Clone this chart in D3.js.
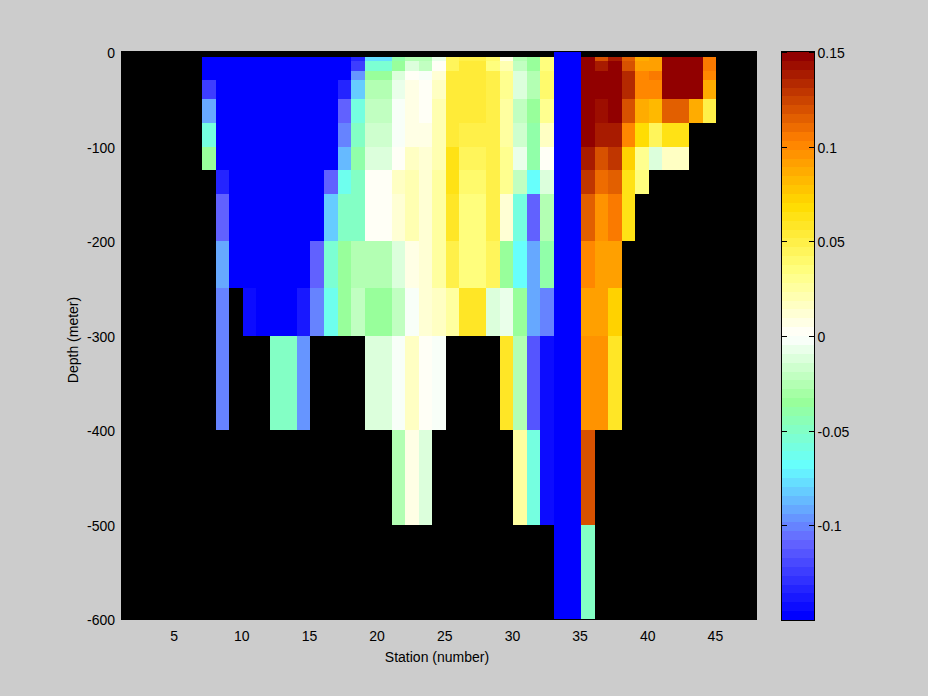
<!DOCTYPE html>
<html>
<head>
<meta charset="utf-8">
<script src="https://cdn.jsdelivr.net/npm/d3@7/dist/d3.min.js"></script>
<style>
html,body{margin:0;padding:0;background:#ccc;overflow:hidden}
svg{display:block}
text{font-family:"Liberation Sans",Arial,sans-serif;font-size:14px;fill:#000}
</style>
</head>
<body>
<script>
const N = null, B = -0.15;
const stationStart = 7;
const depthEdges = [0,5,10,20,30,50,75,100,125,150,200,250,300,400,500,600];
const xTicks = [5,10,15,20,25,30,35,40,45];
const yTicks = [0,-100,-200,-300,-400,-500,-600];
const barTicks = [-0.1,-0.05,0,0.05,0.1,0.15];

// Each row: one depth interval, stations 7 to 44
const d0to5 = [N,N,N,N,N,N,N,N,N,N,N,N,N,N,N,N,N,N,N,N,N,N,N,N,N,N,B,B,N,N,N,N,N,N,N,N,N,N];
const d5to10 = [B,B,B,B,B,B,B,B,B,B,B,-.134,-.078,-.078,-.041,-.026,-.026,-.005,.043,.051,.051,.04,.008,-.027,-.034,.037,B,B,.15,.12,.139,.115,.086,.091,.15,.15,.15,.105];
const d10to20 = [B,B,B,B,B,B,B,B,B,B,B,-.1225,-.054,-.054,-.033,-.01,-.019,0,.045,.054,.054,.037,.021,-.019,-.033,.037,B,B,.15,.139,.15,.12,.091,.093,.15,.15,.15,.105];
const d20to30 = [B,B,B,B,B,B,B,B,B,B,B,-.097,-.034,-.034,-.01,.003,-.002,.011,.054,.056,.056,.047,.029,-.01,-.027,.04,B,B,.15,.15,.15,.134,.099,.105,.15,.15,.15,.099];
const d30to50 = [-.1225,B,B,B,B,B,B,B,B,B,-.134,-.08,-.026,-.026,-.005,.007,.001,.017,.054,.056,.056,.048,.032,-.01,-.026,.04,B,B,.15,.15,.15,.134,.1,.1,.15,.15,.15,.089];
const d50to75 = [-.09,B,B,B,B,B,B,B,B,B,-.11,-.06,-.021,-.021,-.003,.007,.001,.023,.056,.056,.056,.049,.026,-.019,-.034,.032,B,B,.15,.145,.15,.12,.086,.081,.115,.115,.089,.048];
const d75to100 = [-.06,B,B,B,B,B,B,B,B,B,-.1,-.051,-.016,-.016,-.003,.006,.006,.023,.056,.051,.051,.049,.026,-.017,-.04,.018,B,B,.15,.139,.139,.1,.067,.043,.062,.062,N,N];
const d100to125 = [-.033,B,B,B,B,B,B,B,B,B,-.087,-.042,-.01,-.01,.003,.018,.01,.023,.062,.043,.043,.048,.029,-.005,-.041,.003,B,B,.139,.118,.127,.074,.032,-.01,.017,.017,N,N];
const d125to150 = [N,-.134,B,B,B,B,B,B,B,-.11,-.065,-.051,.003,.003,.016,.023,.011,.026,.062,.041,.041,.048,.029,-.023,-.07,-.01,B,B,.127,.108,.115,.062,.035,N,N,N,N,N];
const d150to200 = [N,-.11,B,B,B,B,B,B,B,-.08,-.051,-.051,.003,.003,.014,.023,.014,.028,.06,.037,.037,.047,.011,-.057,-.11,-.026,B,B,.115,.097,.105,.065,N,N,N,N,N,N];
const d200to250 = [N,-.09,B,B,B,B,B,B,-.11,-.054,-.034,-.028,-.024,-.024,-.01,.008,.014,.026,.047,.037,.037,.043,-.034,-.07,-.09,-.042,B,B,.1,.091,.091,N,N,N,N,N,N,N];
const d250to300 = [N,-.103,N,-.144,B,B,B,-.139,-.103,-.062,-.034,-.019,-.034,-.034,-.021,-.002,.011,.017,.026,.06,.06,-.01,-.006,-.034,-.09,-.1,B,B,.091,.091,.074,N,N,N,N,N,N,N];
const d300to400 = [N,-.103,N,N,N,-.051,-.051,-.097,N,N,N,N,-.01,-.01,-.002,.017,.003,-.002,N,N,N,N,.059,-.024,-.115,-.142,B,B,.097,.097,.06,N,N,N,N,N,N,N];
const d400to500 = [N,N,N,N,N,N,N,N,N,N,N,N,N,N,-.024,.006,-.01,N,N,N,N,N,N,.024,-.058,-.142,B,B,.12,N,N,N,N,N,N,N,N,N];
const d500to600 = [N,N,N,N,N,N,N,N,N,N,N,N,N,N,N,N,N,N,N,N,N,N,N,N,N,N,B,B,-.048,N,N,N,N,N,N,N,N,N];

const rows = [d0to5,d5to10,d10to20,d20to30,d30to50,d50to75,d75to100,d100to125,d125to150,d150to200,d200to250,d250to300,d300to400,d400to500,d500to600];

// colormap anchors
const cmapValues = [-.15,-.11,-.07,-.035,0,.035,.07,.105,.15];
const cmapColors = ["rgb(0,0,255)","rgb(102,102,255)","rgb(102,255,255)","rgb(153,255,153)","rgb(255,255,255)","rgb(255,255,128)","rgb(255,220,0)","rgb(255,128,0)","rgb(145,0,0)"];
const LEVELS = 64;

const W = 928, H = 696;
const svg = d3.select("body").append("svg").attr("width",W).attr("height",H);
svg.append("rect").attr("width",W).attr("height",H).attr("fill","#cccccc");

const x = d3.scaleLinear().domain([1,48]).range([121,757]);
const y = d3.scaleLinear().domain([0,-600]).range([52,619]);

const ramp = d3.scaleLinear().domain(cmapValues).range(cmapColors).interpolate(d3.interpolateRgb);
const palette = d3.range(LEVELS).map(i => ramp(-.15 + .3*i/(LEVELS-1)));
const color = d3.scaleQuantize().domain([-.15,.15]).range(palette);

// plot background
svg.append("rect").attr("x",121).attr("y",51).attr("width",636).attr("height",569).attr("fill","#000");

const cells = [];
rows.forEach((row,r) => row.forEach((v,c) => {
  if (v !== null) cells.push({s: stationStart + c, top: depthEdges[r], bot: depthEdges[r+1], v});
}));
svg.append("g").attr("shape-rendering","crispEdges").selectAll("rect").data(cells).join("rect")
  .attr("x",d => x(d.s))
  .attr("width",d => x(d.s+1)-x(d.s))
  .attr("y",d => y(-d.top))
  .attr("height",d => y(-d.bot)-y(-d.top))
  .attr("fill",d => color(d.v));

// axes
const gx = svg.append("g").attr("transform","translate(-1.5,620)")
  .call(d3.axisBottom(x).tickValues(xTicks).tickSize(0).tickPadding(11).tickFormat(d => String(d)));
const gy = svg.append("g").attr("transform","translate(121,1.5)")
  .call(d3.axisLeft(y).tickValues(yTicks).tickSize(0).tickPadding(6).tickFormat(d => String(d)));
[gx,gy].forEach(g => { g.select(".domain").remove(); g.attr("font-family",null).attr("font-size",null); });

svg.append("text").attr("x",437).attr("y",662).attr("text-anchor","middle").text("Station (number)");
svg.append("text").attr("transform","translate(78,340) rotate(-90)").attr("text-anchor","middle").text("Depth (meter)");

// colorbar
const by = d3.scaleLinear().domain([-.15,.15]).range([620,52]);
const step = .3/LEVELS;
svg.append("g").attr("shape-rendering","crispEdges").selectAll("rect").data(palette).join("rect")
  .attr("x",782).attr("width",32)
  .attr("y",(d,i) => by(-.15+(i+1)*step))
  .attr("height",(d,i) => by(-.15+i*step)-by(-.15+(i+1)*step))
  .attr("fill",d => d);
svg.append("rect").attr("x",781.5).attr("y",51.5).attr("width",33).attr("height",569)
  .attr("fill","none").attr("stroke","#000").attr("shape-rendering","crispEdges");
const barFmt = d => String(d);
const gr = svg.append("g").attr("transform","translate(814.5,0)")
  .call(d3.axisRight(by).tickValues(barTicks).tickSize(-6).tickPadding(3).tickFormat(barFmt));
gr.selectAll("text").attr("dy","0.4em");
const gl = svg.append("g").attr("transform","translate(781.5,0)")
  .call(d3.axisLeft(by).tickValues(barTicks).tickSize(-5).tickFormat(""));
[gr,gl].forEach(g => { g.select(".domain").remove(); g.attr("font-family",null).attr("font-size",null); g.selectAll("line").attr("shape-rendering","crispEdges"); });
</script>
</body>
</html>
